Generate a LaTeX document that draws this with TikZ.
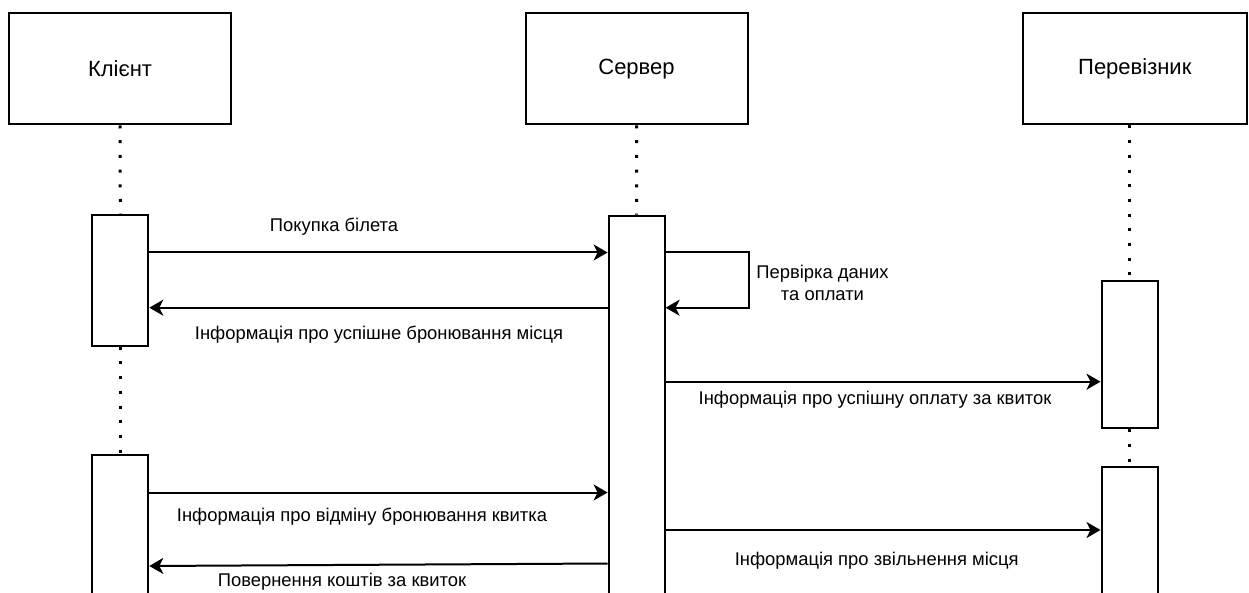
\documentclass[tikz,border=0pt]{standalone}
\usepackage{fontspec}
\setmainfont{Liberation Sans}
\usetikzlibrary{arrows.meta}
\begin{document}
\begin{tikzpicture}[x=1pt,y=-1pt,
  head/.style={draw, line width=2pt, minimum width=222pt, minimum height=111pt,
    font=\fontsize{22}{26}\selectfont, inner sep=0pt},
  actbox/.style={draw, fill=white, line width=2pt, minimum width=56pt, inner sep=0pt},
  lifeline/.style={line width=3pt, dash pattern=on 3pt off 11.7pt},
  msg/.style={line width=2pt, -{Stealth[length=14pt,width=16pt,inset=4pt]}},
  lbl/.style={font=\fontsize{18.4}{22}\selectfont, inner sep=0pt, align=center},
]
\useasboundingbox (0,0) rectangle (1249,593);
\fill[white] (0,0) rectangle (1249,593);
\clip (0,0) rectangle (1249,593);

% participants
\node[head] (cl) at (120,69) {Клієнт};
\node[head] (sv) at (636.5,69) {Сервер};
\node[head, minimum width=223.7pt] (pe) at (1134.8,69) {Перевізник};

% activation bars
\node[actbox, minimum height=130.7pt] (ca1) at (120.3,280.4) {};
\node[actbox, minimum height=195pt]   (ca2) at (120.3,552.5) {};
\node[actbox, minimum height=434.3pt] (sa)  at (636.6,432.9) {};
\node[actbox, minimum height=147.6pt] (pa1) at (1129.5,354.5) {};
\node[actbox, minimum height=182.7pt] (pa2) at (1129.5,558.7) {};

% lifelines
\draw[lifeline] (cl.south) -- (ca1.north);
\draw[lifeline] (ca1.south) -- (ca2.north);
\draw[lifeline] (sv.south) -- (sa.north);
\draw[lifeline] (pa1.north |- pe.south) -- (pa1.north);
\draw[lifeline] (pa1.south) -- (pa2.north);

% messages
\draw[msg] (ca1.east |- 0,252.5) -- (sa.west |- 0,252.5);
\draw[msg] (sa.east |- 0,252.5) -- ++(83,0) |- (sa.east |- 0,307.7);
\draw[msg] (sa.west |- 0,307.7) -- (ca1.east |- 0,307.7);
\draw[msg] (sa.east |- 0,381.7) -- (pa1.west |- 0,381.7);
\draw[msg] (ca2.east |- 0,492.5) -- (sa.west |- 0,492.5);
\draw[msg] (sa.east |- 0,530) -- (pa2.west |- 0,530);
\draw[msg] (sa.west |- 0,563.5) -- (ca2.east |- 0,566);

% message labels
\node[lbl] (l1) at (334,226.7) {Покупка білета};
\node[lbl] (l2) at (822.5,283) {Первірка даних\\та оплати};
\node[lbl] (l3) at (379,335) {Інформація про успішне бронювання місця};
\node[lbl] (l4) at (875,399.3) {Інформація про успішну оплату за квиток};
\node[lbl] (l5) at (362,516.7) {Інформація про відміну бронювання квитка};
\node[lbl] (l6) at (876.7,560.5) {Інформація про звільнення місця};
\node[lbl] (l7) at (342,582) {Повернення коштів за квиток};
\end{tikzpicture}
\end{document}
